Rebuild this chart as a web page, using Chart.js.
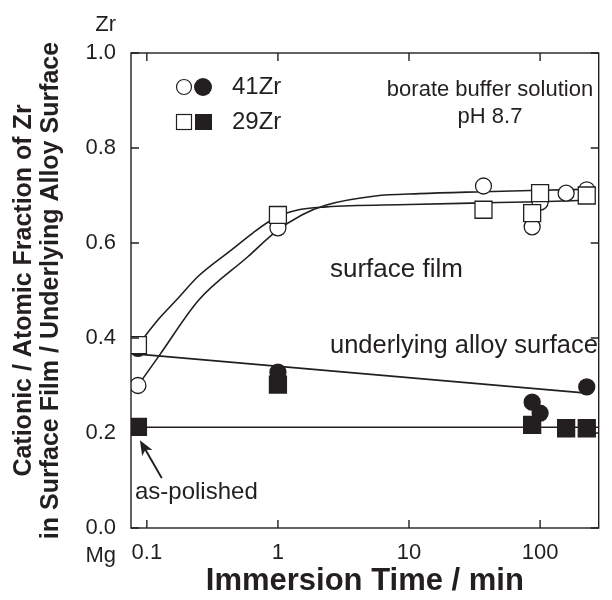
<!DOCTYPE html>
<html>
<head>
<meta charset="utf-8">
<script src="https://cdn.jsdelivr.net/npm/chart.js@4"></script>
<style>
  body { margin: 0; background: #fff; }
  #wrap { width: 612px; height: 600px; }
</style>
</head>
<body>
<div id="wrap"><canvas id="myChart" width="612" height="600"></canvas></div>
<script>
// Measured points (immersion time in min, cationic fraction of Zr)
const film41Time = [0.0855, 1, 37, 87, 100, 158, 227];
const film41Val = [0.30, 0.632, 0.72, 0.634, 0.686, 0.705, 0.712];
const film29Time = [0.0855, 1, 37, 87, 100, 227];
const film29Val = [0.385, 0.659, 0.67, 0.663, 0.705, 0.70];
const alloy41Time = [0.0855, 1, 87, 100, 227];
const alloy41Val = [0.378, 0.328, 0.265, 0.242, 0.297];
const alloy29Time = [0.0855, 1, 87, 158, 227];
const alloy29Val = [0.213, 0.302, 0.217, 0.21, 0.21];

// Guide curves
const curve41Time = [0.0855, 0.125, 0.249, 0.589, 0.955, 1.52, 2.34, 5.53, 12, 37, 100, 227];
const curve41Val = [0.30, 0.364, 0.48, 0.571, 0.623, 0.659, 0.68, 0.699, 0.704, 0.708, 0.711, 0.713];
const curve29Time = [0.0855, 0.125, 0.168, 0.249, 0.44, 0.643, 0.955, 1.39, 2.34, 10, 30, 100, 227];
const curve29Val = [0.385, 0.442, 0.48, 0.531, 0.585, 0.621, 0.653, 0.669, 0.676, 0.681, 0.684, 0.687, 0.69];
const fitAlloy41Time = [0.0855, 227];
const fitAlloy41Val = [0.366, 0.284];
const fitAlloy29Time = [0.0855, 280];
const fitAlloy29Val = [0.212, 0.212];

const xTicks = [0.1, 1, 10, 100];
const yTicks = [0, 0.2, 0.4, 0.6, 0.8, 1.0];

const FONT = '"Liberation Sans", Arial, Helvetica, sans-serif';
const INK = '#231f20';

const pts = (xs, ys) => xs.map((x, i) => ({ x: x, y: ys[i] }));

function markerSet(xs, ys, style, filled, order) {
  return {
    type: 'scatter',
    data: pts(xs, ys),
    pointStyle: style,
    pointRadius: style === 'rect' ? 12 : 8,
    pointBackgroundColor: filled ? INK : '#fff',
    pointBorderColor: INK,
    pointBorderWidth: 1.3,
    showLine: false,
    order: order
  };
}

function lineSet(xs, ys, smooth) {
  return {
    type: 'line',
    data: pts(xs, ys),
    borderColor: INK,
    borderWidth: 1.6,
    pointRadius: 0,
    fill: false,
    cubicInterpolationMode: smooth ? 'monotone' : 'default',
    tension: 0,
    order: 20
  };
}

// frame, inward ticks and the text notes
const decorations = {
  id: 'decorations',
  afterDatasetsDraw(chart) {
    const { ctx, chartArea: a, scales: { x, y } } = chart;
    ctx.save();
    ctx.strokeStyle = INK;
    ctx.lineWidth = 1.4;
    ctx.strokeRect(a.left, a.top, a.right - a.left, a.bottom - a.top);
    ctx.beginPath();
    xTicks.forEach(v => {
      const px = x.getPixelForValue(v);
      ctx.moveTo(px, a.bottom); ctx.lineTo(px, a.bottom - 8);
      ctx.moveTo(px, a.top); ctx.lineTo(px, a.top + 8);
    });
    yTicks.forEach(v => {
      const py = y.getPixelForValue(v);
      ctx.moveTo(a.left, py); ctx.lineTo(a.left + 8, py);
      ctx.moveTo(a.right, py); ctx.lineTo(a.right - 8, py);
    });
    ctx.stroke();

    ctx.fillStyle = INK;
    ctx.textBaseline = 'middle';
    ctx.font = '22px ' + FONT;
    ctx.textAlign = 'right';
    ctx.fillText('Zr', a.left - 15, 25);
    ctx.fillText('Mg', a.left - 15, 556);

    ctx.textAlign = 'center';
    ctx.font = '22px ' + FONT;
    ctx.fillText('borate buffer solution', 490, 90);
    ctx.fillText('pH 8.7', 490, 117);

    ctx.textAlign = 'left';
    ctx.font = '26px ' + FONT;
    ctx.fillText('surface film', 330, 270);
    ctx.font = '25.5px ' + FONT;
    ctx.fillText('underlying alloy surface', 330, 346);
    ctx.font = '24px ' + FONT;
    ctx.fillText('as-polished', 135, 492);

    // legend
    ctx.font = '24px ' + FONT;
    ctx.fillText('41Zr', 232, 87);
    ctx.fillText('29Zr', 232, 122);
    ctx.lineWidth = 1.2;
    ctx.beginPath(); ctx.arc(184, 87, 7.5, 0, Math.PI * 2); ctx.fillStyle = '#fff'; ctx.fill(); ctx.stroke();
    ctx.beginPath(); ctx.arc(203, 87, 9, 0, Math.PI * 2); ctx.fillStyle = INK; ctx.fill();
    ctx.strokeRect(176.5, 114.5, 15, 15);
    ctx.fillRect(195, 114, 17, 16);

    // arrow to the as-polished points
    const tx = x.getPixelForValue(0.13), ty = y.getPixelForValue(0.105);
    const hx = x.getPixelForValue(0.0885), hy = y.getPixelForValue(0.185);
    const ang = Math.atan2(hy - ty, hx - tx);
    ctx.lineWidth = 2;
    ctx.beginPath(); ctx.moveTo(tx, ty); ctx.lineTo(hx - 8 * Math.cos(ang), hy - 8 * Math.sin(ang)); ctx.stroke();
    ctx.beginPath();
    ctx.moveTo(hx, hy);
    ctx.lineTo(hx - 16 * Math.cos(ang - 0.38), hy - 16 * Math.sin(ang - 0.38));
    ctx.lineTo(hx - 11 * Math.cos(ang), hy - 11 * Math.sin(ang));
    ctx.lineTo(hx - 16 * Math.cos(ang + 0.38), hy - 16 * Math.sin(ang + 0.38));
    ctx.closePath();
    ctx.fill();
    ctx.restore();
  }
};

const ctx = document.getElementById('myChart');

const myChart = new Chart(ctx, {
  data: {
    datasets: [
      lineSet(curve41Time, curve41Val, true),
      lineSet(curve29Time, curve29Val, true),
      lineSet(fitAlloy41Time, fitAlloy41Val, false),
      lineSet(fitAlloy29Time, fitAlloy29Val, false),
      markerSet(film41Time, film41Val, 'circle', false, 6),
      markerSet(alloy41Time, alloy41Val, 'circle', true, 5),
      markerSet(film29Time, film29Val, 'rect', false, 2),
      markerSet(alloy29Time, alloy29Val, 'rect', true, 1)
    ]
  },
  options: {
    responsive: false,
    animation: false,
    layout: { padding: { top: 53, right: 4, left: 0, bottom: 0 } },
    plugins: {
      legend: { display: false },
      tooltip: { enabled: false }
    },
    scales: {
      x: {
        type: 'logarithmic',
        min: 0.0757,
        max: 280,
        afterBuildTicks: scale => { scale.ticks = xTicks.map(v => ({ value: v })); },
        afterFit: scale => { scale.height = 72; },
        grid: { display: false, drawTicks: false },
        border: { display: false },
        ticks: {
          autoSkip: false,
          maxRotation: 0,
          padding: 12,
          color: INK,
          font: { family: FONT, size: 22 },
          callback: v => String(v)
        },
        title: {
          display: true,
          text: 'Immersion Time / min',
          color: INK,
          font: { family: FONT, size: 31, weight: 'bold', lineHeight: 1 },
          padding: { top: 0, bottom: 3 }
        }
      },
      y: {
        min: 0,
        max: 1,
        afterBuildTicks: scale => { scale.ticks = yTicks.map(v => ({ value: v })); },
        afterFit: scale => { scale.width = 131; },
        grid: { display: false, drawTicks: false },
        border: { display: false },
        ticks: {
          padding: 15,
          color: INK,
          font: { family: FONT, size: 22 },
          callback: v => v.toFixed(1)
        },
        title: {
          display: true,
          text: ['Cationic / Atomic Fraction of Zr', 'in Surface Film / Underlying Alloy Surface'],
          color: INK,
          font: { family: FONT, size: 25, weight: 'bold', lineHeight: 1.08 },
          padding: { top: 11, bottom: 0 }
        }
      }
    }
  },
  plugins: [decorations]
});
</script>
</body>
</html>
